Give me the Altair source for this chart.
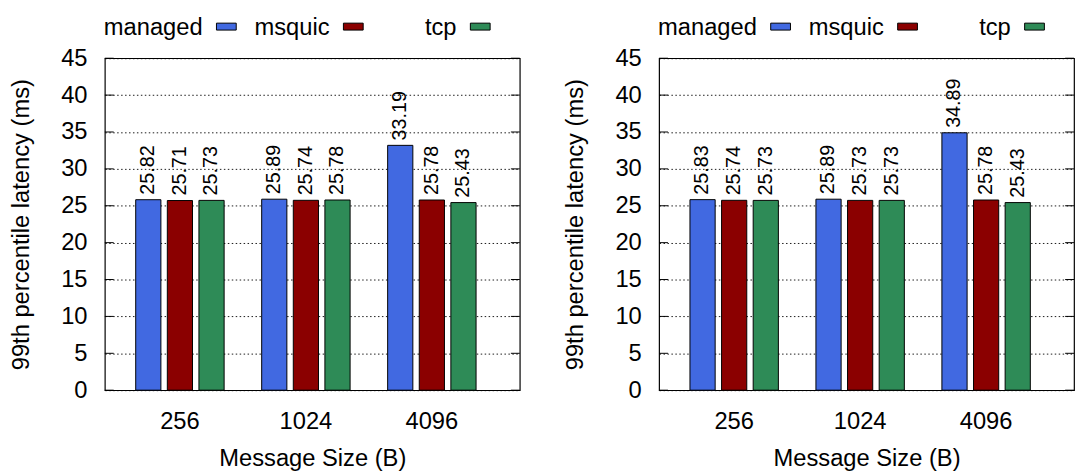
import altair as alt
import pandas as pd

sizes = ["256", "1024", "4096"]
series = ["managed", "msquic", "tcp"]
colors = ["#4169e1", "#8b0000", "#2e8b57"]

left_managed = [25.82, 25.89, 33.19]
left_msquic = [25.71, 25.74, 25.78]
left_tcp = [25.73, 25.78, 25.43]

right_managed = [25.83, 25.89, 34.89]
right_msquic = [25.74, 25.73, 25.78]
right_tcp = [25.73, 25.73, 25.43]

y_ticks = [0, 5, 10, 15, 20, 25, 30, 35, 40, 45]

FONT = "Liberation Sans"
FS = 24
W, H = 420, 336
TICK = 9


def make_df(m, q, t):
    rows = []
    for s, vals in zip(series, [m, q, t]):
        for size, v in zip(sizes, vals):
            rows.append({"size": size, "series": s, "value": v})
    return pd.DataFrame(rows)


def panel(df):
    x = alt.X(
        "size:N", sort=sizes, title="Message Size (B)",
        scale=alt.Scale(paddingInner=0, paddingOuter=0.147, align=0.327),
        axis=alt.Axis(labelAngle=0, ticks=False, labelPadding=20,
                      titlePadding=13, domain=False),
    )
    xo = alt.XOffset("series:N", sort=series,
                     scale=alt.Scale(paddingInner=0.203, paddingOuter=0.594))
    y = alt.Y(
        "value:Q", title="99th percentile latency (ms)",
        scale=alt.Scale(domain=[0, 45], nice=False),
        axis=alt.Axis(values=y_ticks, ticks=False, labelPadding=18,
                      titlePadding=28, grid=True, gridDash=[1.5, 2.5],
                      gridColor="black", gridOpacity=0.9, domain=False,
                      labelOverlap=False),
    )
    color = alt.Color("series:N", sort=series,
                      scale=alt.Scale(domain=series, range=colors), legend=None)

    bars = alt.Chart(df).mark_bar(stroke="black", strokeWidth=1).encode(
        x=x, xOffset=xo, y=y, color=color)
    labels = alt.Chart(df).mark_text(
        angle=270, align="left", baseline="middle", dx=5,
        font=FONT, fontSize=20, color="black",
    ).encode(x=x, xOffset=xo, y=y, text=alt.Text("value:Q", format=".2f"))

    tick_df = pd.DataFrame({"value": y_ticks})
    lt = alt.Chart(tick_df).mark_rule(color="black").encode(
        y=y, x=alt.value(0), x2=alt.value(TICK))
    rt = alt.Chart(tick_df).mark_rule(color="black").encode(
        y=y, x=alt.value(W - TICK), x2=alt.value(W))

    main = alt.layer(bars, labels, lt, rt)

    leg_df = pd.DataFrame({"series": series})
    lx = alt.X("series:N", sort=series,
               scale=alt.Scale(type="point", domain=series, range=[123, 380], padding=0),
               axis=None)
    swatch = alt.Chart(leg_df).mark_rect(
        stroke="black", strokeWidth=1, xOffset=-10, x2Offset=10
    ).encode(x=lx, x2=alt.X2("series"), y=alt.value(-35.5), y2=alt.value(-28.5),
             color=color)
    legtext = alt.Chart(leg_df).mark_text(
        align="right", baseline="alphabetic", dx=-24,
        font=FONT, fontSize=FS, color="black",
    ).encode(x=lx, y=alt.value(-24), text="series:N")
    legend = alt.layer(swatch, legtext)

    return alt.layer(main, legend).resolve_scale(
        x="independent").properties(width=W, height=H)


left = panel(make_df(left_managed, left_msquic, left_tcp))
right = panel(make_df(right_managed, right_msquic, right_tcp))

chart = alt.hconcat(left, right, spacing=41).properties(
    padding={"left": 0, "top": 4, "right": 0, "bottom": 0}
).configure_view(stroke="black", strokeWidth=1.2).configure_axis(
    labelFont=FONT, titleFont=FONT, labelFontSize=FS, titleFontSize=FS,
    titleFontWeight="normal", labelColor="black", titleColor="black",
)

chart.save("out.html", embed_options={"renderer": "svg", "actions": False})
